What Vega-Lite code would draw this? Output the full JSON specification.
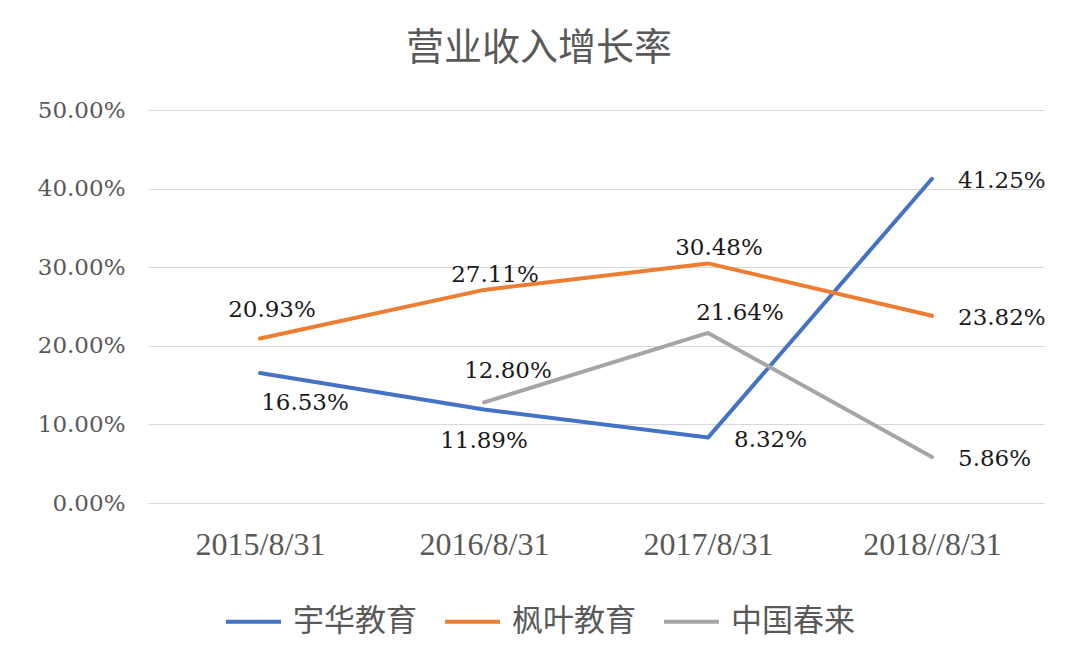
{
  "$schema": "https://vega.github.io/schema/vega-lite/v6.json",
  "width": 896,
  "height": 393,
  "autosize": "none",
  "padding": {"left": 148, "top": 110, "right": 33, "bottom": 165},
  "background": "white",
  "config": {"view": {"stroke": null}},
  "title": {
    "text": "营业收入增长率",
    "fontSize": 38,
    "font": "Noto Sans CJK SC",
    "fontWeight": "normal",
    "color": "#595959",
    "anchor": "middle",
    "dx": -57,
    "offset": 31
  },
  "data": {
    "values": [
      {"d": "2015/8/31", "s": "宇华教育", "v": 0.1653},
      {"d": "2016/8/31", "s": "宇华教育", "v": 0.1189},
      {"d": "2017/8/31", "s": "宇华教育", "v": 0.0832},
      {"d": "2018//8/31", "s": "宇华教育", "v": 0.4125},
      {"d": "2015/8/31", "s": "枫叶教育", "v": 0.2093},
      {"d": "2016/8/31", "s": "枫叶教育", "v": 0.2711},
      {"d": "2017/8/31", "s": "枫叶教育", "v": 0.3048},
      {"d": "2018//8/31", "s": "枫叶教育", "v": 0.2382},
      {"d": "2016/8/31", "s": "中国春来", "v": 0.128},
      {"d": "2017/8/31", "s": "中国春来", "v": 0.2164},
      {"d": "2018//8/31", "s": "中国春来", "v": 0.0586}
    ]
  },
  "encoding": {
    "x": {
      "field": "d",
      "type": "ordinal",
      "sort": null,
      "scale": {"type": "point", "padding": 0.5, "domain": ["2015/8/31", "2016/8/31", "2017/8/31", "2018//8/31"]},
      "axis": {
        "title": null,
        "domainColor": "#D9D9D9",
        "domainWidth": 1,
        "ticks": false,
        "grid": false,
        "labelAngle": 0,
        "labelFont": "Liberation Serif",
        "labelFontSize": 32,
        "labelColor": "#595959",
        "labelPadding": 26
      }
    },
    "y": {
      "field": "v",
      "type": "quantitative",
      "scale": {"domain": [0, 0.5], "nice": false},
      "axis": {
        "title": null,
        "domain": false,
        "ticks": false,
        "grid": true,
        "gridColor": "#D9D9D9",
        "gridWidth": 1,
        "values": [0, 0.1, 0.2, 0.3, 0.4, 0.5],
        "format": ".2%",
        "labelFont": "DejaVu Serif",
        "labelFontSize": 23,
        "labelColor": "#595959",
        "labelPadding": 23
      }
    }
  },
  "layer": [
    {
      "mark": {"type": "line", "strokeWidth": 4, "strokeCap": "round", "strokeJoin": "round"},
      "encoding": {
        "color": {
          "field": "s",
          "type": "nominal",
          "scale": {"domain": ["宇华教育", "枫叶教育", "中国春来"], "range": ["#4472C4", "#ED7D31", "#A5A5A5"]},
          "legend": {
            "title": null,
            "orient": "none",
            "legendX": 76,
            "legendY": 482,
            "direction": "horizontal",
            "symbolType": "stroke",
            "symbolSize": 3025,
            "symbolStrokeWidth": 4,
            "labelFont": "Noto Sans CJK SC",
            "labelFontSize": 31,
            "labelColor": "#595959",
            "labelOffset": 10,
            "columnPadding": 20,
            "labelLimit": 300
          }
        }
      }
    },
    {
      "transform": [{"filter": {"field": "v", "oneOf": [0.4125, 0.2382, 0.0586, 0.0832]}}],
      "mark": {"type": "text", "align": "left", "baseline": "middle", "dx": 26, "dy": 2, "font": "DejaVu Serif", "fontSize": 23, "color": "#1a1a1a"},
      "encoding": {"text": {"field": "v", "type": "quantitative", "format": ".2%"}}
    },
    {
      "transform": [{"filter": {"field": "v", "oneOf": [0.2711, 0.3048]}}],
      "mark": {"type": "text", "align": "center", "baseline": "middle", "dx": 11, "dy": -15, "font": "DejaVu Serif", "fontSize": 23, "color": "#1a1a1a"},
      "encoding": {"text": {"field": "v", "type": "quantitative", "format": ".2%"}}
    },
    {
      "transform": [{"filter": {"field": "v", "oneOf": [0.2093]}}],
      "mark": {"type": "text", "align": "center", "baseline": "middle", "dx": 12, "dy": -28, "font": "DejaVu Serif", "fontSize": 23, "color": "#1a1a1a"},
      "encoding": {"text": {"field": "v", "type": "quantitative", "format": ".2%"}}
    },
    {
      "transform": [{"filter": {"field": "v", "oneOf": [0.128]}}],
      "mark": {"type": "text", "align": "center", "baseline": "middle", "dx": 24, "dy": -31, "font": "DejaVu Serif", "fontSize": 23, "color": "#1a1a1a"},
      "encoding": {"text": {"field": "v", "type": "quantitative", "format": ".2%"}}
    },
    {
      "transform": [{"filter": {"field": "v", "oneOf": [0.2164]}}],
      "mark": {"type": "text", "align": "center", "baseline": "middle", "dx": 32, "dy": -20, "font": "DejaVu Serif", "fontSize": 23, "color": "#1a1a1a"},
      "encoding": {"text": {"field": "v", "type": "quantitative", "format": ".2%"}}
    },
    {
      "transform": [{"filter": {"field": "v", "oneOf": [0.1653]}}],
      "mark": {"type": "text", "align": "center", "baseline": "middle", "dx": 45, "dy": 30, "font": "DejaVu Serif", "fontSize": 23, "color": "#1a1a1a"},
      "encoding": {"text": {"field": "v", "type": "quantitative", "format": ".2%"}}
    },
    {
      "transform": [{"filter": {"field": "v", "oneOf": [0.1189]}}],
      "mark": {"type": "text", "align": "center", "baseline": "middle", "dx": 0, "dy": 31, "font": "DejaVu Serif", "fontSize": 23, "color": "#1a1a1a"},
      "encoding": {"text": {"field": "v", "type": "quantitative", "format": ".2%"}}
    }
  ]
}
